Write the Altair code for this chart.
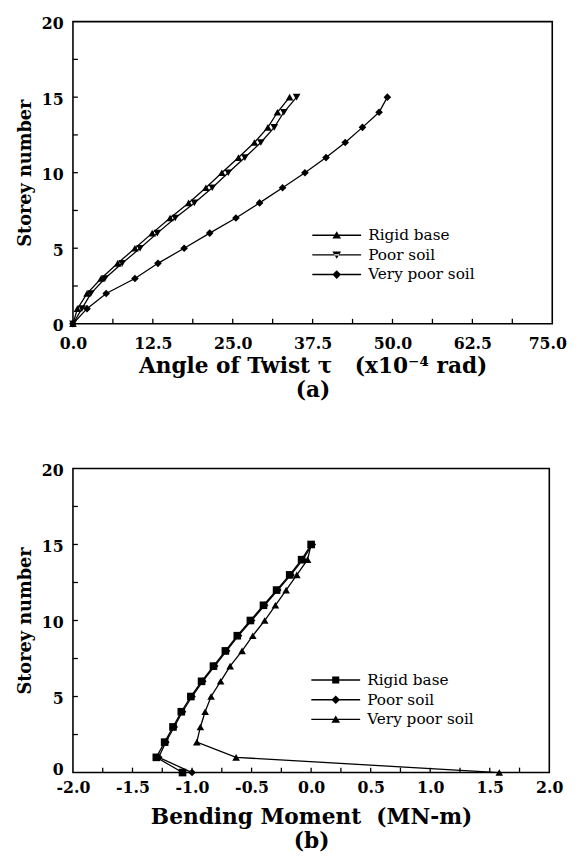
import altair as alt
import pandas as pd

storey = list(range(16))
series = ["Rigid base", "Poor soil", "Very poor soil"]

# (a) Angle of twist (x10^-4 rad)
twist_rigid = [0, 0.7, 2.2, 4.4, 7.0, 9.7, 12.4, 15.2, 18.1, 20.8, 23.3, 25.9, 28.4, 30.5, 32.0, 33.9]
twist_poor = [0, 1.4, 2.8, 5.0, 7.7, 10.5, 13.2, 16.0, 19.0, 21.8, 24.3, 26.9, 29.4, 31.5, 33.0, 35.0]
twist_vpoor = [0, 2.2, 5.2, 9.7, 13.3, 17.4, 21.4, 25.5, 29.2, 32.8, 36.3, 39.6, 42.6, 45.3, 47.9, 49.2]

# (b) Bending moment (MN-m)
bm_rigid = [-1.08, -1.30, -1.23, -1.16, -1.09, -1.01, -0.92, -0.82, -0.72, -0.62, -0.51, -0.40, -0.29, -0.18, -0.08, 0.0]
bm_poor = [-1.00, -1.28, -1.22, -1.15, -1.08, -1.00, -0.91, -0.81, -0.71, -0.61, -0.50, -0.39, -0.28, -0.17, -0.07, 0.01]
bm_vpoor = [1.58, -0.63, -0.96, -0.93, -0.89, -0.84, -0.76, -0.68, -0.58, -0.49, -0.39, -0.30, -0.21, -0.12, -0.03, 0.0]

top_shapes = ["triangle-up", "triangle-down", "diamond"]
bot_shapes = ["square", "diamond", "triangle-up"]

top_xlabels = [0, 12.5, 25, 37.5, 50, 62.5, 75]
top_xticks = [6.25, 12.5, 18.75, 25, 31.25, 37.5, 43.75, 50, 56.25, 62.5, 68.75]
bot_xlabels = [-2.0, -1.5, -1.0, -0.5, 0.0, 0.5, 1.0, 1.5, 2.0]
bot_xticks = [-1.75, -1.5, -1.25, -1.0, -0.75, -0.5, -0.25, 0.0, 0.25, 0.5, 0.75, 1.0, 1.25, 1.5, 1.75]
ylabels = [0, 5, 10, 15, 20]
yticks = [2.5, 5, 7.5, 10, 12.5, 15, 17.5]

# legend symbols: a line with the marker in the middle (unit = 8px)
LINE = "M-3.1,-0.09H3.1V0.09H-3.1Z"
top_leg_paths = [
    LINE + "M-0.55,0.42L0,-0.5L0.55,0.42Z",
    LINE + "M-0.55,-0.42L0,0.5L0.55,-0.42Z",
    LINE + "M-0.55,0L0,-0.55L0.55,0L0,0.55Z",
]
bot_leg_paths = [
    LINE + "M-0.45,-0.45H0.45V0.45H-0.45Z",
    LINE + "M-0.55,0L0,-0.55L0.55,0L0,0.55Z",
    LINE + "M-0.55,0.42L0,-0.5L0.55,0.42Z",
]

FONT = "DejaVu Serif"
SP = "\u00a0"


def long_df(vals):
    rows = []
    for name, v in zip(series, vals):
        for s, x in zip(storey, v):
            rows.append({"series": name, "storey": s, "value": x})
    return pd.DataFrame(rows)


def panel(df, xdomain, xlabels, xticks, shapes, leg_paths, title, fmt_expr,
          width, height, leg_x, leg_y, label_pad, title_pad, line_h,
          x_label_offset, y_label_offset):
    xscale = alt.Scale(domain=xdomain, nice=False, zero=False)
    yscale = alt.Scale(domain=[0, 20], nice=False, zero=False)
    xaxis = alt.Axis(values=xlabels, labelExpr=fmt_expr, title=title,
                     labelPadding=label_pad, titlePadding=title_pad,
                     titleLineHeight=line_h, labelFlush=False,
                     labelOffset=x_label_offset)
    yaxis = alt.Axis(values=ylabels, format="d", title="Storey number",
                     labelPadding=10, titlePadding=7, labelFlush=False,
                     labelOffset=y_label_offset, titleFontSize=18)
    base = alt.Chart(df)
    X = alt.X("value:Q", scale=xscale, axis=xaxis)
    Y = alt.Y("storey:Q", scale=yscale, axis=yaxis)
    line = base.mark_line(color="black", strokeWidth=1.3).encode(
        x=X, y=Y, detail="series:N", order="storey:Q",
    )
    pts = base.mark_point(filled=True, color="black", size=60, opacity=1).encode(
        x=X, y=Y,
        shape=alt.Shape("series:N", scale=alt.Scale(domain=series, range=shapes),
                        legend=None),
    )
    # legend-only layer (draws nothing in the plot)
    leg = base.transform_filter("false").mark_point(
        filled=True, color="black", opacity=1
    ).encode(
        x=X, y=Y,
        shape=alt.Shape(
            "series:N",
            scale=alt.Scale(domain=series, range=leg_paths),
            legend=alt.Legend(
                title=None, orient="none", legendX=leg_x, legendY=leg_y,
                symbolSize=256, labelOffset=23, rowPadding=2, padding=0,
                labelFont=FONT, labelFontSize=15.5, labelColor="black",
                symbolFillColor="black", symbolOpacity=1,
            ),
        ),
    )
    xt = alt.Chart(pd.DataFrame({"value": xticks})).mark_rule(
        color="black", strokeWidth=1.3).encode(
        x=X, y=alt.value(height), y2=alt.value(height - 5),
    )
    yt = alt.Chart(pd.DataFrame({"storey": yticks})).mark_rule(
        color="black", strokeWidth=1.3).encode(
        y=Y, x=alt.value(0), x2=alt.value(5),
    )
    return alt.layer(line, pts, leg, xt, yt).resolve_scale(
        shape="independent").properties(width=width, height=height)


fmt = "replace(format(datum.value, '.1f'), '\u2212', '-')"

top = panel(long_df([twist_rigid, twist_poor, twist_vpoor]), [0, 75],
            top_xlabels, top_xticks, top_shapes, top_leg_paths,
            ["Angle of Twist \u03c4" + SP * 3 + "(x10\u207b\u2074 rad)", "(a)"], fmt,
            487, 307, 259, 208, 12, 5, 24,
            {"condition": {"test": "datum.value >= 75", "value": -5}, "value": 0},
            2)
bottom = panel(long_df([bm_rigid, bm_poor, bm_vpoor]), [-2, 2],
               bot_xlabels, bot_xticks, bot_shapes, bot_leg_paths,
               ["Bending Moment" + SP * 2 + "(MN-m)", "(b)"], fmt,
               484, 309, 258, 206, 7, 12, 24, 0,
               {"condition": {"test": "datum.value <= 0", "value": -3}, "value": 2})

chart = alt.vconcat(top, bottom, spacing=61).resolve_scale(
    x="independent", y="independent", shape="independent"
).resolve_legend(shape="independent").properties(
    padding={"left": 7, "top": 0, "right": 0, "bottom": 0}
).configure_view(stroke="black", strokeWidth=1.6).configure_axis(
    labelFont=FONT, labelFontWeight="bold", labelFontSize=16, labelColor="black",
    titleFont=FONT, titleFontWeight="bold", titleFontSize=22, titleColor="black",
    ticks=False, tickSize=0, domain=False, grid=False,
).configure_legend(labelFont=FONT, labelFontSize=15.5, labelColor="black")

chart.save("out.html", embed_options={"renderer": "svg", "actions": False})
